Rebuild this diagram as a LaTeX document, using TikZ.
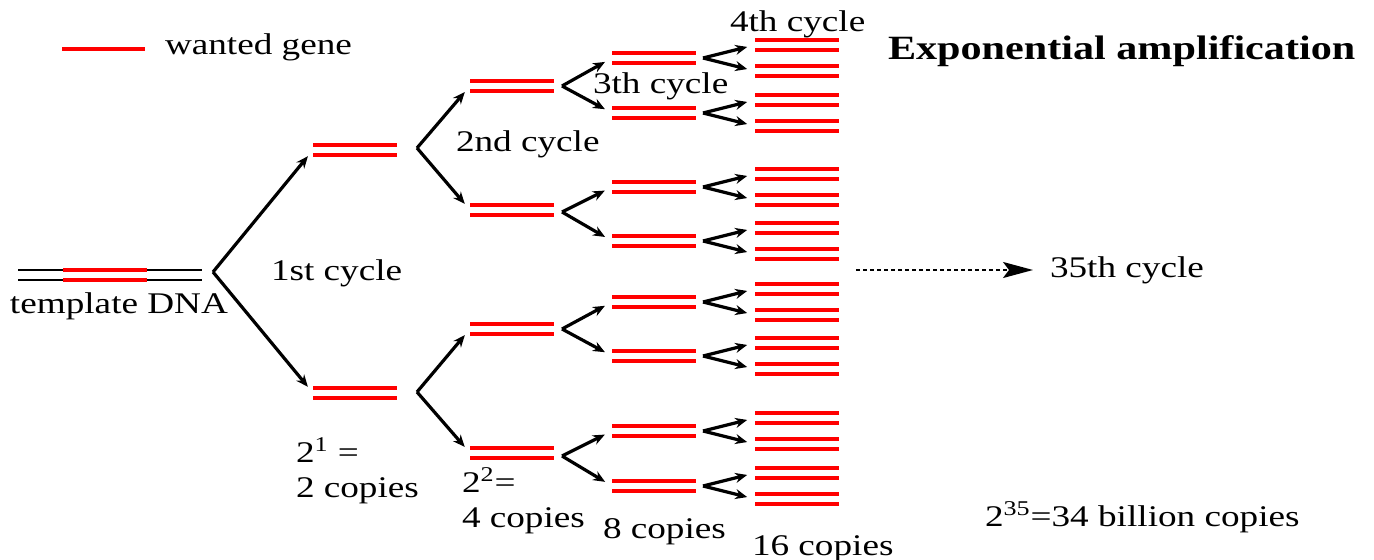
\documentclass[tikz,border=0pt]{standalone}
\usepackage{fontspec}
\setmainfont{Liberation Serif}[FakeStretch=1.24]
\usetikzlibrary{arrows.meta}
\begin{document}
\begin{tikzpicture}[x=0.5pt,y=-0.5pt,
  every node/.style={font=\fontsize{15}{17.5}\selectfont, inner sep=0pt, outer sep=0pt},
  lbl/.style={anchor=base west},
  gene/.style={red, line width=2.2pt},
  pairA/.style={rectangle, minimum width=42pt, minimum height=10pt,
    path picture={
      \draw[gene] ([yshift=2.5pt]path picture bounding box.west) -- ([yshift=2.5pt]path picture bounding box.east);
      \draw[gene] ([yshift=-2.5pt]path picture bounding box.west) -- ([yshift=-2.5pt]path picture bounding box.east);}},
  tmpl/.style={rectangle, minimum width=92pt, minimum height=10pt,
    path picture={
      \draw[black, line width=1.4pt] ([yshift=2.5pt]path picture bounding box.west) -- ([yshift=2.5pt]path picture bounding box.east);
      \draw[black, line width=1.4pt] ([yshift=-2.5pt]path picture bounding box.west) -- ([yshift=-2.5pt]path picture bounding box.east);
      \draw[gene] ([xshift=22.5pt,yshift=2.5pt]path picture bounding box.west) -- ([xshift=64.5pt,yshift=2.5pt]path picture bounding box.west);
      \draw[gene] ([xshift=22.5pt,yshift=-2.5pt]path picture bounding box.west) -- ([xshift=64.5pt,yshift=-2.5pt]path picture bounding box.west);}},
  brn/.style={black, line width=1.6pt, -{Stealth[length=6pt,width=5pt]}, shorten >=4pt},
  dashar/.style={black, line width=0.9pt, dash pattern=on 2pt off 1.5pt, -{Stealth[length=15pt,width=8pt,inset=3pt]}, shorten >=8.5pt}
]
\useasboundingbox (0,0) rectangle (1374,560);

% legend
\coordinate (l1) at (62,49);
\coordinate (l2) at (145,49);
\draw[gene] (l1) -- (l2);
\node[lbl] (leg) at (165,55) {wanted gene};
\node[lbl, font=\fontsize{17}{20}\selectfont\bfseries] (title) at (888,60) {Exponential amplification};

% template
\node[tmpl] (t) at (110,275) {};
\node[lbl] (tlab) at (10,314) {template DNA};
\coordinate (at) at (213,272);

% gen 1
\node[pairA] (g1a) at (355,150) {};
\node[pairA] (g1b) at (355,393) {};
\draw[brn] (at) -- (g1a.west);
\draw[brn] (at) -- (g1b.west);
\coordinate (a1a) at (417,148);
\coordinate (a1b) at (417,392);

% gen 2
\node[pairA] (g2a) at (512,86) {};
\node[pairA] (g2b) at (512,210) {};
\node[pairA] (g2c) at (512,329) {};
\node[pairA] (g2d) at (512,453) {};
\draw[brn] (a1a) -- (g2a.west);
\draw[brn] (a1a) -- (g2b.west);
\draw[brn] (a1b) -- (g2c.west);
\draw[brn] (a1b) -- (g2d.west);

% gen 3
\foreach \y [count=\i] in {58,113,187,241,302,356,431,486}
  \node[pairA] (g3\i) at (654,\y) {};
\coordinate (a2a) at (562,86);
\coordinate (a2b) at (562,212);
\coordinate (a2c) at (562,329);
\coordinate (a2d) at (562,456);
\draw[brn] (a2a) -- (g31.west);
\draw[brn] (a2a) -- (g32.west);
\draw[brn] (a2b) -- (g33.west);
\draw[brn] (a2b) -- (g34.west);
\draw[brn] (a2c) -- (g35.west);
\draw[brn] (a2c) -- (g36.west);
\draw[brn] (a2d) -- (g37.west);
\draw[brn] (a2d) -- (g38.west);

% gen 4
\foreach \y [count=\i] in {58,113,187,241,302,356,431,486} {
  \node[pairA] (g4\i a) at (797,\y-13) {};
  \node[pairA] (g4\i b) at (797,\y+13) {};
  \coordinate (a3\i) at (703,\y);
  \draw[brn] (a3\i) -- (g4\i a.west);
  \draw[brn] (a3\i) -- (g4\i b.west);
}

% cycle labels
\node[lbl] (c1) at (271,281) {1st cycle};
\node[lbl] (c2) at (456,152) {2nd cycle};
\node[lbl] (c3) at (593,94) {3th cycle};
\node[lbl] (c4) at (730,32) {4th cycle};
\node[lbl] (c35) at (1050,278) {35th cycle};
\coordinate (d1) at (856,270);
\draw[dashar] (d1) -- (c35.west |- d1);

% copies labels
\node[lbl] (p1a) at (296,462) {2\textsuperscript{1} =};
\node[lbl] (p1b) at (296,497) {2 copies};
\node[lbl] (p2a) at (462,492) {2\textsuperscript{2}=};
\node[lbl] (p2b) at (462,527) {4 copies};
\node[lbl] (p3) at (603,538) {8 copies};
\node[lbl] (p4) at (752,555) {16 copies};
\node[lbl] (p35) at (985,526) {2\textsuperscript{35}=34 billion copies};
\end{tikzpicture}
\end{document}
